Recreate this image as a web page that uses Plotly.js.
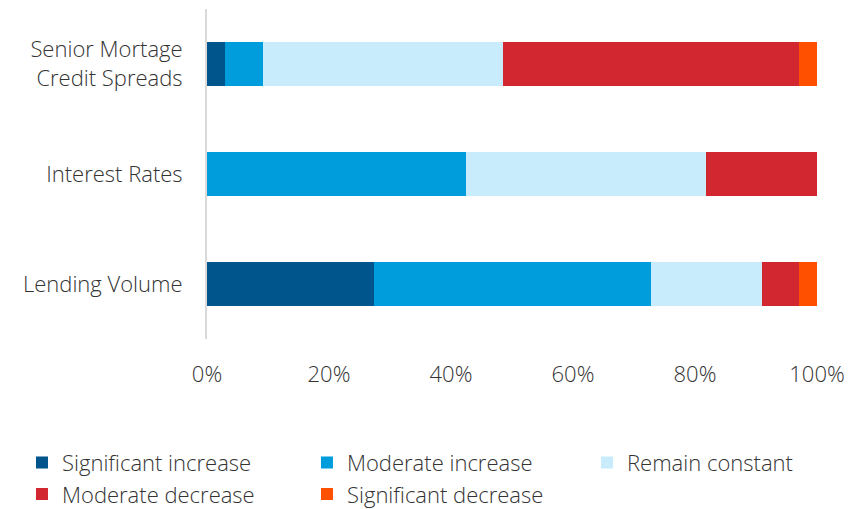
<!DOCTYPE html>
<html>
<head>
<meta charset="utf-8">
<script src="https://cdn.plot.ly/plotly-3.0.1.min.js"></script>
<style>html,body{margin:0;padding:0;background:#fff;}#chart{width:861px;height:509px;}</style>
</head>
<body>
<div id="chart"></div>
<script>
const categories = ["Lending Volume", "Interest Rates", "Senior Mortage<br>Credit Spreads"];
const seriesNames = ["Significant increase", "Moderate increase", "Remain constant", "Moderate decrease", "Significant decrease"];
const significantIncrease = [0.273, 0.0, 0.030];
const moderateIncrease    = [0.455, 0.424, 0.061];
const remainConstant      = [0.182, 0.394, 0.394];
const moderateDecrease    = [0.061, 0.182, 0.485];
const significantDecrease = [0.030, 0.0, 0.030];
const tickVals = [0, 0.2, 0.4, 0.6, 0.8, 1.0];
const tickText = ["0%", "20%", "40%", "60%", "80%", "100%"];
const colors = ["#00568C", "#009DDC", "#C8ECFB", "#D22630", "#FF5000"];
// legend column for each series (reference legend is laid out in 3 columns, 2 rows)
const legendIds = ["legend", "legend2", "legend3", "legend", "legend2"];

const seriesValues = [significantIncrease, moderateIncrease, remainConstant, moderateDecrease, significantDecrease];
const traces = seriesValues.map((vals, i) => ({
  type: "bar",
  orientation: "h",
  name: seriesNames[i],
  y: categories,
  x: vals,
  marker: {color: colors[i], line: {width: 0}},
  width: 0.4,
  legend: legendIds[i],
  hoverinfo: "x+name"
}));

const fontFam = "'Open Sans', 'Noto Sans', sans-serif";
const txtFont = {family: fontFam, size: 22, color: "#333333", weight: 300};
const legendBase = {
  orientation: "v", xanchor: "left", y: -0.311, yanchor: "top",
  traceorder: "normal", font: txtFont, itemwidth: 30, tracegroupgap: 0,
  bgcolor: "rgba(0,0,0,0)"
};
const layout = {
  width: 861, height: 509,
  margin: {l: 207, r: 44, t: 9, b: 170, pad: 0, autoexpand: false},
  paper_bgcolor: "#ffffff", plot_bgcolor: "#ffffff",
  barmode: "stack",
  font: txtFont,
  xaxis: {
    range: [0, 1], tickvals: tickVals, ticktext: tickText,
    showgrid: false, zeroline: false, showline: false,
    ticks: "", ticklabelstandoff: 20,
    tickfont: txtFont, fixedrange: true
  },
  yaxis: {
    showgrid: false, zeroline: false, showline: true,
    linecolor: "#D9D9D9", linewidth: 2,
    ticks: "", ticklabelstandoff: 18,
    tickfont: txtFont, fixedrange: true
  },
  showlegend: true,
  legend: Object.assign({}, legendBase, {x: -0.3033}),
  legend2: Object.assign({}, legendBase, {x: 0.1639}),
  legend3: Object.assign({}, legendBase, {x: 0.623})
};
Plotly.newPlot("chart", traces, layout, {displayModeBar: false, staticPlot: true});
</script>
</body>
</html>
